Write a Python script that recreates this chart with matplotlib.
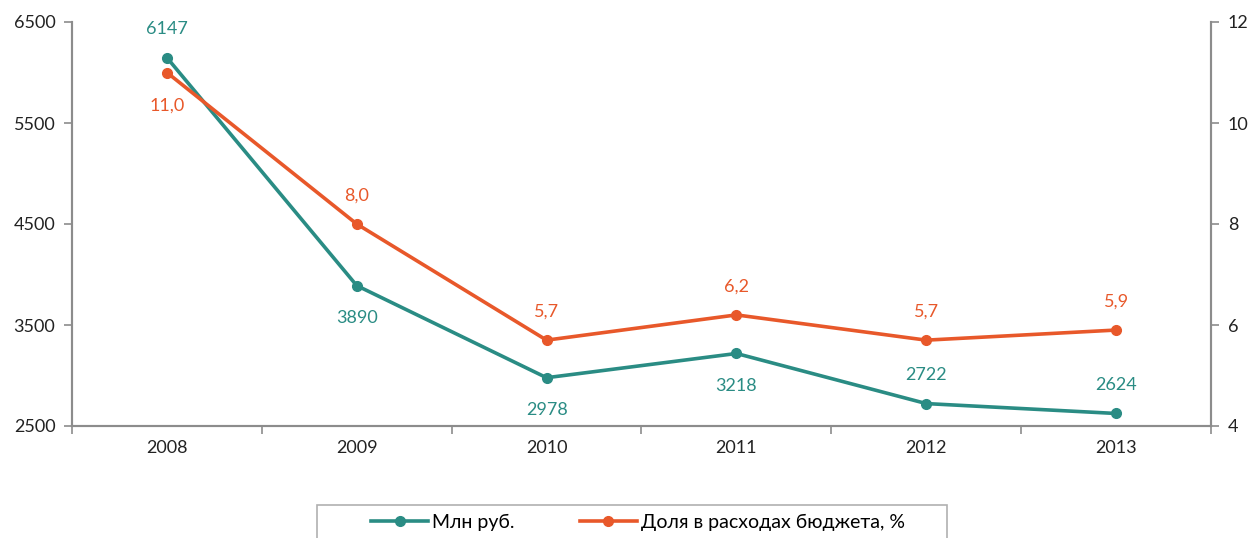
import matplotlib
matplotlib.use("Agg")
import matplotlib.pyplot as plt
from matplotlib.patches import Rectangle

years = ["2008", "2009", "2010", "2011", "2012", "2013"]
mln_rub = [6147, 3890, 2978, 3218, 2722, 2624]
share = [11.0, 8.0, 5.7, 6.2, 5.7, 5.9]
mln_label_pos = ["above", "below", "below", "below", "above", "above"]
share_label_pos = ["below", "above", "above", "above", "above", "above"]

teal = "#2a8c84"
orange = "#e8582a"
grey = "#8c8c8c"
plt.rcParams['font.family'] = ['Lato', 'DejaVu Sans']

fig = plt.figure(figsize=(12.55, 5.38), dpi=100)
ax = fig.add_axes([72/1255, 1-426/538, (1211-72)/1255, (426-22)/538])
ax2 = ax.twinx()

x = list(range(len(years)))
l1, = ax.plot(x, mln_rub, color=teal, lw=2.6, marker='o', ms=7, label="Млн руб.", zorder=3)
l2, = ax2.plot(x, share, color=orange, lw=2.6, marker='o', ms=7, label="Доля в расходах бюджета, %", zorder=3)

ax.set_xlim(-0.5, 5.5)
ax.set_ylim(2500, 6500)
ax.set_yticks([2500, 3500, 4500, 5500, 6500])
ax2.set_ylim(4, 12)
ax2.set_yticks([4, 6, 8, 10, 12])
ax.set_xticks(x)
ax.set_xticklabels(years)
ax.set_xticks([i + 0.5 for i in range(-1, 6)], minor=True)

for a in (ax, ax2):
    a.spines['top'].set_visible(False)
    for s in ('left', 'right', 'bottom'):
        a.spines[s].set_color(grey)
        a.spines[s].set_linewidth(1.5)
    a.tick_params(axis='y', colors=grey, labelcolor='#222222', labelsize=13, length=6, width=1.2, pad=6)
ax.tick_params(axis='x', which='major', length=0, labelsize=13, labelcolor='#222222', pad=10)
ax.tick_params(axis='x', which='minor', length=6, width=1.2, color=grey)

for xi, v, p in zip(x, mln_rub, mln_label_pos):
    off = 20.5 if p == "above" else -23.5
    ax.annotate(f"{v}", (xi, v), xytext=(0, off), textcoords='offset points',
                ha='center', va='center', color=teal, fontsize=13)
for xi, v, p in zip(x, share, share_label_pos):
    off = 20.5 if p == "above" else -23.5
    ax2.annotate(f"{v:.1f}".replace('.', ','), (xi, v), xytext=(0, off), textcoords='offset points',
                 ha='center', va='center', color=orange, fontsize=13)

# legend box (partially cut off at bottom, as in the reference)
fig.patches.append(Rectangle((317/1255, -0.05), (947-317)/1255, 1-505/538+0.05,
                             transform=fig.transFigure, fill=False,
                             edgecolor='#b0b0b0', linewidth=1.2))
leg = fig.legend(handles=[l1, l2], loc='center', bbox_to_anchor=(638/1255, 1-522/538),
                 ncol=2, frameon=False, fontsize=14, handlelength=2.9,
                 columnspacing=3.4, handletextpad=0.2, borderaxespad=0, borderpad=0)

fig.savefig("out.png", dpi=100)
